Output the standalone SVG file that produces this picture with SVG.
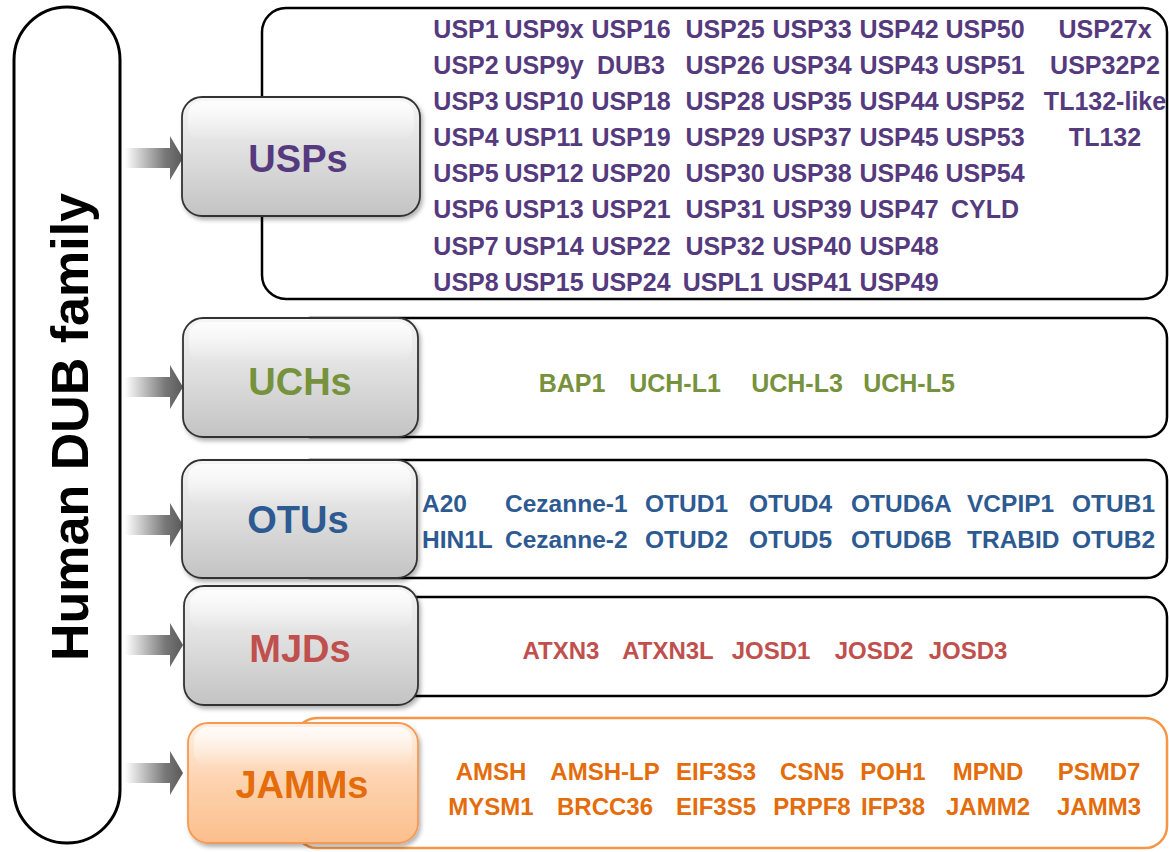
<svg xmlns="http://www.w3.org/2000/svg" width="1169" height="852" viewBox="0 0 1169 852">
<defs>
<linearGradient id="gGray" x1="0" y1="0" x2="0" y2="1">
<stop offset="0" stop-color="#f6f6f6"/><stop offset="0.5" stop-color="#dddddd"/><stop offset="1" stop-color="#c3c3c3"/>
</linearGradient>
<linearGradient id="gOrange" x1="0" y1="0" x2="0" y2="1">
<stop offset="0" stop-color="#fff0e4"/><stop offset="0.5" stop-color="#fdd2ae"/><stop offset="1" stop-color="#fbbf8c"/>
</linearGradient>
<linearGradient id="gHi" x1="0" y1="0" x2="0" y2="1">
<stop offset="0" stop-color="#ffffff" stop-opacity="0.8"/><stop offset="1" stop-color="#ffffff" stop-opacity="0"/>
</linearGradient>
<linearGradient id="gArrow" x1="0" y1="0" x2="1" y2="0">
<stop offset="0" stop-color="#ffffff"/><stop offset="0.7" stop-color="#777777"/><stop offset="1" stop-color="#5a5a5a"/>
</linearGradient>
<filter id="sh" x="-10%" y="-10%" width="125%" height="130%">
<feDropShadow dx="2" dy="3" stdDeviation="2" flood-color="#000" flood-opacity="0.3"/>
</filter>
<path id="arr" d="M125,148 H170 V136 L183,158 L170,180 V168 H125 Z"/>
</defs>
<style>
.pill{fill:#fff;stroke:#000;stroke-width:3}
.cbox{fill:#fff;stroke:#000;stroke-width:2.5}
.cboxO{fill:#fff;stroke:#f79646;stroke-width:2.5}
.cat{fill:url(#gGray);stroke:#333;stroke-width:1.8;filter:url(#sh)}
.catO{fill:url(#gOrange);stroke:#f59a55;stroke-width:1.8;filter:url(#sh)}
.hi{fill:url(#gHi)}
.lbl{font-family:"Liberation Sans",Arial,sans-serif;font-weight:bold;font-size:38px;text-anchor:middle}
.t{font-family:"Liberation Sans",Arial,sans-serif;font-weight:bold}
.usp{fill:#553a7e;font-size:25px;text-anchor:middle}
.uch{fill:#76923c;font-size:25px;text-anchor:middle}
.otu{fill:#2e5a92;font-size:24.5px}
.mjd{fill:#c0504d;font-size:24px;text-anchor:middle}
.jam{fill:#e46c0a;font-size:24px;text-anchor:middle}
.arrow{fill:url(#gArrow)}
</style>

<g id="family">
<rect class="pill" x="14" y="7" width="106" height="836" rx="53"/>
<text transform="translate(88,427) rotate(-90)" font-family="Liberation Sans, Arial, sans-serif" font-weight="bold" font-size="52" text-anchor="middle" fill="#000">Human DUB family</text>
</g>

<g id="connectors">
<use href="#arr" class="arrow"/>
<use href="#arr" class="arrow" transform="translate(0,229)"/>
<use href="#arr" class="arrow" transform="translate(0,367)"/>
<use href="#arr" class="arrow" transform="translate(0,487)"/>
<use href="#arr" class="arrow" transform="translate(0,615)"/>
</g>

<g id="usps">
<rect class="cbox" x="262" y="8" width="905" height="291" rx="24"/>
<rect class="cat" x="182" y="97" width="238" height="119" rx="20"/>
<rect class="hi" x="188" y="101" width="226" height="40" rx="14"/>
<text class="lbl" x="298" y="172" fill="#553a7e">USPs</text>
<g class="t usp">
<text x="466" y="38">USP1</text><text x="466" y="74">USP2</text><text x="466" y="110">USP3</text><text x="466" y="146">USP4</text><text x="466" y="182">USP5</text><text x="466" y="218">USP6</text><text x="466" y="255">USP7</text><text x="466" y="291">USP8</text>
<text x="544" y="38">USP9x</text><text x="544" y="74">USP9y</text><text x="544" y="110">USP10</text><text x="544" y="146">USP11</text><text x="544" y="182">USP12</text><text x="544" y="218">USP13</text><text x="544" y="255">USP14</text><text x="544" y="291">USP15</text>
<text x="631" y="38">USP16</text><text x="631" y="74">DUB3</text><text x="631" y="110">USP18</text><text x="631" y="146">USP19</text><text x="631" y="182">USP20</text><text x="631" y="218">USP21</text><text x="631" y="255">USP22</text><text x="631" y="291">USP24</text>
<text x="725" y="38">USP25</text><text x="725" y="74">USP26</text><text x="725" y="110">USP28</text><text x="725" y="146">USP29</text><text x="725" y="182">USP30</text><text x="725" y="218">USP31</text><text x="725" y="255">USP32</text><text x="723" y="291">USPL1</text>
<text x="812" y="38">USP33</text><text x="812" y="74">USP34</text><text x="812" y="110">USP35</text><text x="812" y="146">USP37</text><text x="812" y="182">USP38</text><text x="812" y="218">USP39</text><text x="812" y="255">USP40</text><text x="812" y="291">USP41</text>
<text x="899" y="38">USP42</text><text x="899" y="74">USP43</text><text x="899" y="110">USP44</text><text x="899" y="146">USP45</text><text x="899" y="182">USP46</text><text x="899" y="218">USP47</text><text x="899" y="255">USP48</text><text x="899" y="291">USP49</text>
<text x="985" y="38">USP50</text><text x="985" y="74">USP51</text><text x="985" y="110">USP52</text><text x="985" y="146">USP53</text><text x="985" y="182">USP54</text><text x="985" y="218">CYLD</text>
<text x="1105" y="38">USP27x</text><text x="1105" y="74">USP32P2</text><text x="1105" y="110">TL132-like</text><text x="1105" y="146">TL132</text>
</g>
</g>

<g id="uchs">
<rect class="cbox" x="290" y="318" width="877" height="119" rx="20"/>
<rect class="cat" x="183" y="318" width="235" height="119" rx="20"/>
<rect class="hi" x="189" y="322" width="223" height="40" rx="14"/>
<text class="lbl" x="300" y="395" fill="#76923c">UCHs</text>
<g class="t uch">
<text x="572" y="392">BAP1</text><text x="675" y="392">UCH-L1</text><text x="797" y="392">UCH-L3</text><text x="909" y="392">UCH-L5</text>
</g>
</g>

<g id="otus">
<rect class="cbox" x="290" y="460" width="877" height="118" rx="20"/>
<rect class="cat" x="182" y="460" width="235" height="118" rx="20"/>
<rect class="hi" x="188" y="464" width="223" height="40" rx="14"/>
<text class="lbl" x="298" y="533" fill="#2e5a92">OTUs</text>
<g class="t otu">
<text x="422" y="512">A20</text><text x="505" y="512">Cezanne-1</text><text x="645" y="512">OTUD1</text><text x="749" y="512">OTUD4</text><text x="851" y="512">OTUD6A</text><text x="967" y="512">VCPIP1</text><text x="1072" y="512">OTUB1</text>
<text x="422" y="548">HIN1L</text><text x="505" y="548">Cezanne-2</text><text x="645" y="548">OTUD2</text><text x="749" y="548">OTUD5</text><text x="851" y="548">OTUD6B</text><text x="967" y="548">TRABID</text><text x="1072" y="548">OTUB2</text>
</g>
</g>

<g id="mjds">
<rect class="cbox" x="290" y="597" width="877" height="99" rx="20"/>
<rect class="cat" x="184" y="586" width="234" height="119" rx="20"/>
<rect class="hi" x="190" y="590" width="222" height="40" rx="14"/>
<text class="lbl" x="300" y="662" fill="#c0504d">MJDs</text>
<g class="t mjd">
<text x="561" y="659">ATXN3</text><text x="668" y="659">ATXN3L</text><text x="771" y="659">JOSD1</text><text x="874" y="659">JOSD2</text><text x="968" y="659">JOSD3</text>
</g>
</g>

<g id="jamms">
<rect class="cboxO" x="295" y="718" width="872" height="130" rx="22"/>
<rect class="catO" x="188" y="723" width="230" height="120" rx="20"/>
<rect class="hi" x="194" y="727" width="218" height="40" rx="14"/>
<text class="lbl" x="302" y="798" fill="#e46c0a">JAMMs</text>
<g class="t jam">
<text x="491" y="780">AMSH</text><text x="605" y="780">AMSH-LP</text><text x="716" y="780">EIF3S3</text><text x="812" y="780">CSN5</text><text x="893" y="780">POH1</text><text x="988" y="780">MPND</text><text x="1099" y="780">PSMD7</text>
<text x="491" y="815">MYSM1</text><text x="605" y="815">BRCC36</text><text x="716" y="815">EIF3S5</text><text x="812" y="815">PRPF8</text><text x="893" y="815">IFP38</text><text x="988" y="815">JAMM2</text><text x="1099" y="815">JAMM3</text>
</g>
</g>
</svg>
